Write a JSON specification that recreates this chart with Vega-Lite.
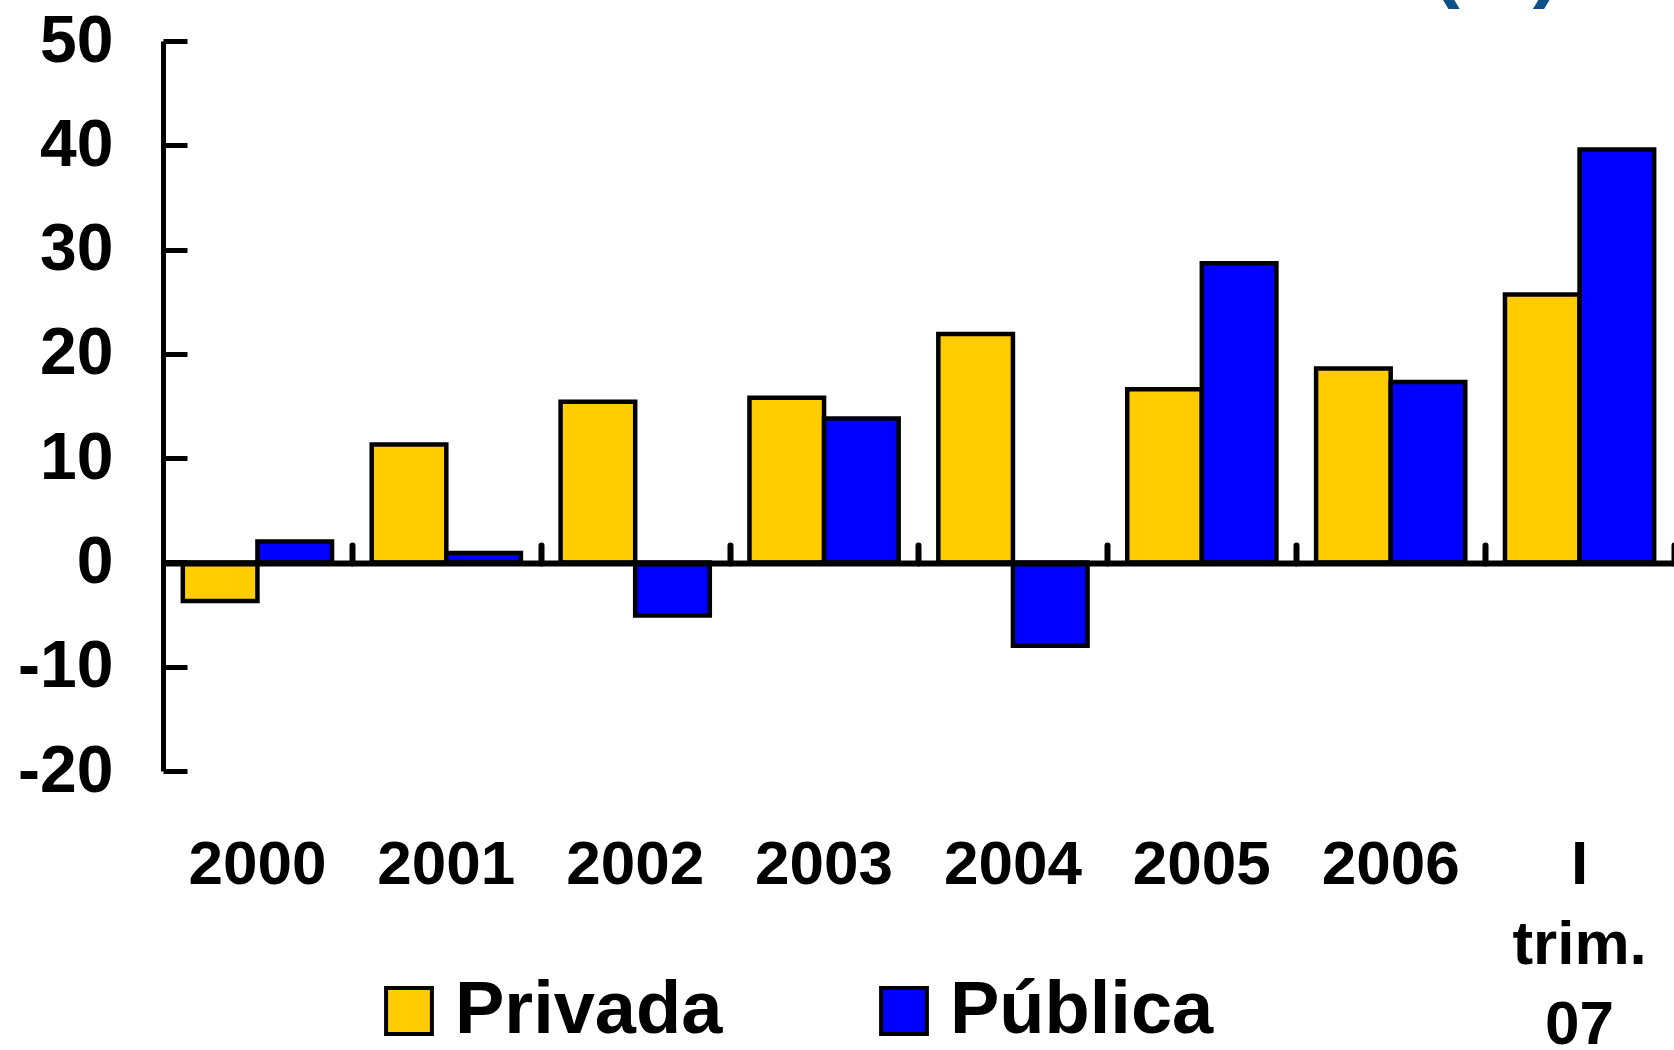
{
  "$schema": "https://vega.github.io/schema/vega-lite/v6.json",
  "width": 1511,
  "height": 730,
  "autosize": "none",
  "padding": {"left": 163, "top": 41, "right": 0, "bottom": 279},
  "background": "#ffffff",
  "config": {
    "view": {"stroke": null},
    "font": "Liberation Sans"
  },
  "title": {
    "text": "(%)",
    "anchor": "end",
    "orient": "top",
    "fontSize": 82,
    "fontWeight": "bold",
    "font": "Liberation Sans",
    "color": "#0d5088",
    "baseline": "alphabetic",
    "offset": -66,
    "dx": -117
  },
  "data": {
    "values": [
      {"periodo": "2000", "tipo": "Privada", "valor": -3.7},
      {"periodo": "2000", "tipo": "Pública", "valor": 2.0},
      {"periodo": "2001", "tipo": "Privada", "valor": 11.3},
      {"periodo": "2001", "tipo": "Pública", "valor": 0.9},
      {"periodo": "2002", "tipo": "Privada", "valor": 15.4},
      {"periodo": "2002", "tipo": "Pública", "valor": -5.1},
      {"periodo": "2003", "tipo": "Privada", "valor": 15.8},
      {"periodo": "2003", "tipo": "Pública", "valor": 13.8},
      {"periodo": "2004", "tipo": "Privada", "valor": 21.9},
      {"periodo": "2004", "tipo": "Pública", "valor": -8.0},
      {"periodo": "2005", "tipo": "Privada", "valor": 16.6},
      {"periodo": "2005", "tipo": "Pública", "valor": 28.7},
      {"periodo": "2006", "tipo": "Privada", "valor": 18.6},
      {"periodo": "2006", "tipo": "Pública", "valor": 17.3},
      {"periodo": "I trim. 07", "tipo": "Privada", "valor": 25.7},
      {"periodo": "I trim. 07", "tipo": "Pública", "valor": 39.6}
    ]
  },
  "resolve": {"axis": {"x": "independent"}},
  "layer": [
    {
      "mark": {"type": "bar", "stroke": "#000000", "strokeWidth": 4.5, "strokeJoin": "miter"},
      "encoding": {
        "x": {
          "field": "periodo",
          "type": "nominal",
          "sort": null,
          "scale": {"paddingInner": 0.21, "paddingOuter": 0.105},
          "axis": {
            "orient": "bottom",
            "title": null,
            "domain": false,
            "ticks": false,
            "labelAngle": 0,
            "labelFontSize": 62,
            "labelFontWeight": "bold",
            "labelColor": "#000000",
            "labelFont": "Liberation Sans",
            "labelBaseline": "top",
            "labelPadding": 63,
            "labelLineHeight": 80,
            "labelExpr": "datum.label == 'I trim. 07' ? ['I', 'trim.', '07'] : datum.label"
          }
        },
        "xOffset": {"field": "tipo", "type": "nominal", "sort": ["Privada", "Pública"], "scale": {"paddingInner": 0, "paddingOuter": 0}},
        "y": {
          "field": "valor",
          "type": "quantitative",
          "scale": {"domain": [-20, 50], "nice": false, "zero": false},
          "axis": {
            "title": null,
            "values": [-20, -10, 0, 10, 20, 30, 40, 50],
            "grid": false,
            "domainColor": "#000000",
            "domainWidth": 5,
            "tickColor": "#000000",
            "tickWidth": 5,
            "tickSize": -24,
            "labelPadding": 74,
            "labelFontSize": 66,
            "labelFontWeight": "bold",
            "labelColor": "#000000",
            "labelFont": "Liberation Sans",
            "labelFlush": false,
            "labelExpr": "toString(datum.value)"
          }
        },
        "color": {
          "field": "tipo",
          "type": "nominal",
          "sort": ["Privada", "Pública"],
          "scale": {"domain": ["Privada", "Pública"], "range": ["#FFCC00", "#0000FF"]},
          "legend": {
            "title": null,
            "orient": "none",
            "direction": "horizontal",
            "legendX": 209,
            "legendY": 933,
            "symbolType": "square",
            "symbolSize": 2100,
            "symbolStrokeColor": "#000000",
            "symbolStrokeWidth": 4,
            "symbolOpacity": 1,
            "labelFontSize": 74,
            "labelFontWeight": "bold",
            "labelFont": "Liberation Sans",
            "labelColor": "#000000",
            "labelOffset": 9,
            "columnPadding": 144,
            "labelLimit": 400
          }
        }
      }
    },
    {
      "mark": {"type": "rule", "opacity": 0},
      "encoding": {
        "x": {
          "field": "periodo",
          "type": "nominal",
          "sort": null,
          "axis": {
            "orient": "bottom",
            "offset": -208,
            "title": null,
            "labels": false,
            "domainColor": "#000000",
            "domainWidth": 6,
            "tickColor": "#000000",
            "tickWidth": 6,
            "tickCap": "round",
            "tickSize": -18,
            "tickOffset": 94.4,
            "zindex": 1
          }
        }
      }
    }
  ]
}
